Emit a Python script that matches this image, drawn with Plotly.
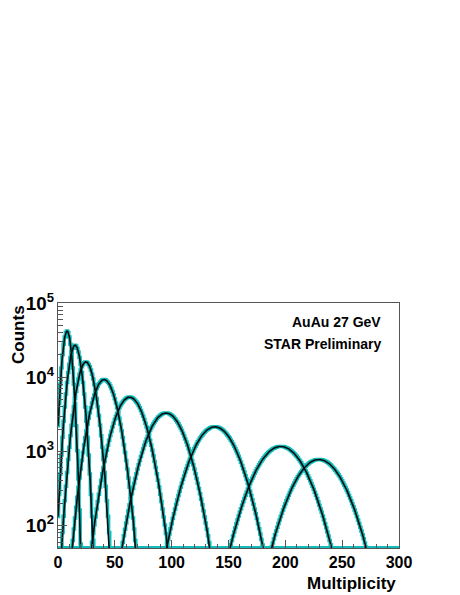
import numpy as np
import plotly.graph_objects as go

# Parameters (peak height, peak position, width) for 9 distributions
peak_counts = [42000, 27000, 16100, 9300, 5400, 3300, 2150, 1170, 780]
peak_mult = [8, 15, 24.5, 40.5, 63, 95, 138, 196, 229.5]
widths = [3.3, 4.6, 6.3, 8.7, 11.0, 13.4, 15.5, 17.8, 17.8]

x_ticks = [0, 50, 100, 150, 200, 250, 300]
y_min, y_max = 50, 1e5

HIST_COLOR = "#10bcbc"
FIT_COLOR = "#0a0a0a"
FRAME = "#555555"
FONT = "Liberation Sans"

fig = go.Figure()
bins = np.arange(0, 301, 1.0)
for A, mu, s in zip(peak_counts, peak_mult, widths):
    h = A * np.exp(-(bins - mu) ** 2 / (2 * s * s))
    h = np.maximum(h, y_min)
    fig.add_trace(go.Scatter(x=bins, y=h, mode="lines", line=dict(color=HIST_COLOR, width=3.5, shape="hvh"),
                             hoverinfo="skip", showlegend=False))
for A, mu, s in zip(peak_counts, peak_mult, widths):
    xf = np.arange(max(0.0, mu - 5 * s), mu + 5 * s, 0.25)
    yf = np.maximum(A * np.exp(-(xf - mu) ** 2 / (2 * s * s)), 1e-3)
    fig.add_trace(go.Scatter(x=xf, y=yf, mode="lines", line=dict(color=FIT_COLOR, width=1.6),
                             hoverinfo="skip", showlegend=False))

fig.update_layout(
    width=452, height=587,
    margin=dict(l=50, r=61, t=295, b=47),
    paper_bgcolor="white", plot_bgcolor="white",
    font=dict(family=FONT, size=16, color="black", weight="bold"),
    xaxis=dict(range=[0, 300], tickvals=x_ticks, ticks="inside", ticklen=8, tickwidth=1, tickcolor=FRAME,
               showline=True, linecolor=FRAME, linewidth=1, mirror=True, showgrid=False, zeroline=False,
               minor=dict(dtick=10, ticks="inside", ticklen=4, tickcolor=FRAME, showgrid=False),
               tickfont=dict(size=16, weight="bold", family=FONT)),
    yaxis=dict(type="log", range=[np.log10(y_min), np.log10(y_max)], dtick=1, exponentformat="power",
               ticks="inside", ticklen=9, tickwidth=1, tickcolor=FRAME,
               showline=True, linecolor=FRAME, linewidth=1, mirror=True, showgrid=False, zeroline=False,
               minor=dict(dtick="D1", ticks="inside", ticklen=5, tickcolor=FRAME, showgrid=False),
               tickfont=dict(size=15, weight="bold", family=FONT)),
    annotations=[
        dict(text="AuAu 27 GeV", x=0.953, y=0.922, xref="paper", yref="paper", xanchor="right", yanchor="middle",
             showarrow=False, font=dict(size=14, weight="bold", family=FONT)),
        dict(text="STAR Preliminary", x=0.953, y=0.833, xref="paper", yref="paper", xanchor="right", yanchor="middle",
             showarrow=False, font=dict(size=14, weight="bold", family=FONT)),
        dict(text="Counts", x=-0.116, y=1.0, xref="paper", yref="paper", xanchor="center", yanchor="top",
             textangle=-90, showarrow=False, font=dict(size=17, weight="bold", family=FONT)),
        dict(text="Multiplicity", x=0.997, y=-0.143, xref="paper", yref="paper", xanchor="right", yanchor="middle",
             showarrow=False, font=dict(size=17, weight="bold", family=FONT)),
    ],
)

fig.write_html("out.html")
